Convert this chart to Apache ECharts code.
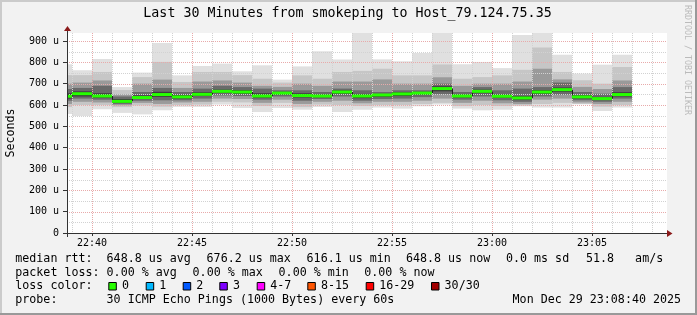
<!DOCTYPE html>
<html><head><meta charset="utf-8">
<script src="https://cdn.jsdelivr.net/npm/echarts@6/dist/echarts.min.js"></script>
<style>html,body{margin:0;padding:0;background:#f2f2f2}#c{width:697px;height:315px}</style>
</head><body><div id="c"></div>
<script>
const FONT = 'DejaVu Sans Mono';

// ---- data (one entry per 1-minute ping round) ----
const startTimes = ['22:38','22:39','22:40','22:41','22:42','22:43','22:44','22:45','22:46','22:47',
  '22:48','22:49','22:50','22:51','22:52','22:53','22:54','22:55','22:56','22:57',
  '22:58','22:59','23:00','23:01','23:02','23:03','23:04','23:05','23:06'];
const pingMax = [791,763,816,684,752,891,739,783,794,758,786,719,781,852,813,950,814,805,844,950,791,802,773,928,950,836,747,789,836];
const pingHi2 = [740,740,755,670,731,802,708,755,755,740,723,705,739,723,755,760,770,739,739,790,723,731,739,765,870,755,716,700,778];
const pingHi3 = [700,705,715,650,700,719,680,710,715,705,690,685,700,690,710,710,720,700,700,730,690,700,700,710,770,720,685,675,715];
const pingHi4 = [675,680,690,640,661,680,661,677,690,684,677,669,669,661,677,669,661,669,669,700,661,684,669,677,684,705,661,653,684];
const pingHi5 = [655,664,655,628,645,662,648,660,672,670,655,662,655,650,668,652,652,660,662,688,650,672,650,642,670,682,646,638,660];
const medianRtt = [641,653,642,617,635,649,638,650,664,661,642,656,644,642,661,642,647,652,656,677,642,664,641,633,661,672,638,630,649];
const pingLo5 = [630,640,634,610,628,638,630,642,656,652,634,648,635,636,652,632,638,642,648,664,635,655,633,625,652,662,630,623,640];
const pingLo4 = [620,630,625,605,620,622,622,630,645,642,625,640,620,628,640,620,628,630,637,650,625,640,622,615,640,648,622,615,630];
const pingLo3 = [605,615,612,598,610,605,612,615,630,628,610,625,605,615,620,608,615,615,620,630,610,620,608,605,625,630,612,605,615];
const pingLo2 = [590,600,600,590,598,592,600,602,615,612,595,610,590,602,600,595,600,600,605,610,595,600,595,598,605,610,605,592,600];
const pingMin = [558,548,580,563,556,575,591,591,602,586,567,586,578,591,567,578,588,583,594,602,583,575,578,594,588,588,603,572,588];

const xTickLabels = ['22:40','22:45','22:50','22:55','23:00','23:05'];
const yTickValues = [0,100,200,300,400,500,600,700,800,900];
const yTickLabels = ['0','100 u','200 u','300 u','400 u','500 u','600 u','700 u','800 u','900 u'];
const minuteGrid = ['22:39','22:40','22:41','22:42','22:43','22:44','22:45','22:46','22:47','22:48','22:49','22:50',
  '22:51','22:52','22:53','22:54','22:55','22:56','22:57','22:58','22:59','23:00','23:01','23:02','23:03','23:04',
  '23:05','23:06','23:07','23:08'];
const valueGrid = [50,100,150,200,250,300,350,400,450,500,550,600,650,700,750,800,850,900];

const legendLine1 = [[15.3,'median rtt:'],[106.6,'648.8 us avg'],[206.6,'676.2 us max'],[306.6,'616.1 us min'],[406,'648.8 us now'],[506,'0.0 ms sd'],[586,'51.8   am/s']];
const legendLine2 = [[15.3,'packet loss:'],[106.6,'0.00 % avg'],[192.6,'0.00 % max'],[278.6,'0.00 % min'],[364.3,'0.00 % now']];
const lossLabels = ['0','1','2','3','4-7','8-15','16-29','30/30'];
const lossColors = ['#26ff00','#00b8ff','#0059ff','#7e00ff','#ff00ff','#ff5500','#ff0000','#a10000'];
const lossBoxX = [108.3,145.7,182.7,219.3,256.7,307.3,365.7,431];
const legendLine4 = [[15.3,'probe:'],[106.6,'30 ICMP Echo Pings (1000 Bytes) every 60s'],[512.6,'Mon Dec 29 23:08:40 2025']];

// ---- helpers ----
const BASE = 22*60+35;
function toMin(s){ const p = s.split(':').map(Number); return p[0]*60 + p[1] - BASE; }
const X_MIN = 3.75, X_MAX = 33.75, Y_MAX = 937.5;
const xTickValues = xTickLabels.map(toMin);

const smokeData = startTimes.map((t,i)=>[toMin(t), pingMin[i], pingLo2[i], pingLo3[i], pingLo4[i], pingLo5[i],
  pingHi5[i], pingHi4[i], pingHi3[i], pingHi2[i], pingMax[i]]);
const medianData = startTimes.map((t,i)=>[toMin(t), medianRtt[i]]);
const BANDS = [[1,10,'#e0e0e0'],[2,9,'#c6c6c6'],[3,8,'#9a9a9a'],[4,7,'#6a6a6a'],[5,6,'#3c3c3c']];

function csRect(cs){ return {x:cs.x, y:cs.y, width:cs.width, height:cs.height}; }

function smokeItem(params, api){
  const cs = csRect(params.coordSys);
  const t0 = api.value(0);
  const children = [];
  BANDS.forEach(function(b){
    const a = api.coord([t0, api.value(b[1])]);
    const c = api.coord([t0+1, api.value(b[0])]);
    const r = echarts.graphic.clipRectByRect({x:a[0], y:a[1], width:c[0]-a[0], height:c[1]-a[1]}, cs);
    if (r) children.push({type:'rect', shape:r, style:{fill:b[2]}});
  });
  return {type:'group', children:children};
}
function medianItem(params, api){
  const cs = csRect(params.coordSys);
  const t0 = api.value(0), m = api.value(1);
  const a = api.coord([t0, m]), c = api.coord([t0+1, m]);
  const children = [];
  const i = params.dataIndex;
  if (i > 0) {
    const p = api.coord([t0, medianRtt[i-1]]);
    children.push({type:'line', shape:{x1:Math.round(a[0])+0.5, y1:p[1], x2:Math.round(a[0])+0.5, y2:a[1]},
      style:{stroke:'#202020', lineWidth:1}});
  }
  const r = echarts.graphic.clipRectByRect({x:a[0], y:a[1]-1.5, width:c[0]-a[0], height:3}, cs);
  if (r) children.push({type:'rect', shape:r, style:{fill:'#26ff00'}});
  return {type:'group', children:children};
}
function vGridItem(params, api){
  const m = api.value(0), major = api.value(1);
  const a = api.coord([m, 0]), b = api.coord([m, Y_MAX]);
  const x = Math.round(a[0]) + 0.5;
  return {type:'line', shape:{x1:x, y1:b[1], x2:x, y2:a[1]},
    style:{stroke: major ? '#e8aaaa' : '#d2d2d2', lineWidth:1, lineDash:[1,1]}};
}
function hGridItem(params, api){
  const v = api.value(1), major = api.value(2);
  const a = api.coord([X_MIN, v]), b = api.coord([X_MAX, v]);
  const y = Math.round(a[1]) + 0.5;
  return {type:'line', shape:{x1:a[0], y1:y, x2:b[0], y2:y},
    style:{stroke: major ? '#e8aaaa' : '#d2d2d2', lineWidth:1, lineDash:[1,1]}};
}

const textStyle = (x, y, text, size, extra) => Object.assign({type:'text', x:x, y:y, silent:true,
  style:{text:text, fill:'#000', fontFamily:FONT, fontSize:size, align:'left', verticalAlign:'middle',
  textAlign:'left', textVerticalAlign:'middle'}}, extra || {});

const graphics = [];
// frame
graphics.push({type:'rect', shape:{x:0,y:0,width:697,height:2}, style:{fill:'#cbcbcb'}, silent:true});
graphics.push({type:'rect', shape:{x:0,y:0,width:2,height:315}, style:{fill:'#cbcbcb'}, silent:true});
graphics.push({type:'rect', shape:{x:695,y:0,width:2,height:315}, style:{fill:'#999999'}, silent:true});
graphics.push({type:'rect', shape:{x:0,y:313,width:697,height:2}, style:{fill:'#999999'}, silent:true});
// title
graphics.push({type:'text', x:347.5, y:13.7, silent:true, style:{text:'Last 30 Minutes from smokeping to Host_79.124.75.35',
  fill:'#000', fontFamily:FONT, fontSize:13.3, align:'center', verticalAlign:'middle', textAlign:'center', textVerticalAlign:'middle'}});
// side label
graphics.push({type:'text', x:687.2, y:60, rotation:-Math.PI/2, silent:true, style:{text:'RRDTOOL / TOBI OETIKER',
  fill:'#bbbbbb', fontFamily:FONT, fontSize:8.3, align:'center', verticalAlign:'middle', textAlign:'center', textVerticalAlign:'middle'}});
// y axis name
graphics.push({type:'text', x:10.9, y:133, rotation:Math.PI/2, silent:true, style:{text:'Seconds',
  fill:'#000', fontFamily:FONT, fontSize:11.66, align:'center', verticalAlign:'middle', textAlign:'center', textVerticalAlign:'middle'}});
// axis extensions and arrows
graphics.push({type:'line', shape:{x1:63, y1:233.5, x2:669, y2:233.5}, style:{stroke:'#333', lineWidth:1}, silent:true, z:10});
graphics.push({type:'line', shape:{x1:67.5, y1:30, x2:67.5, y2:237}, style:{stroke:'#333', lineWidth:1}, silent:true, z:10});
graphics.push({type:'polygon', shape:{points:[[667,230],[672.5,233.5],[667,237]]}, style:{fill:'#8b1a1a'}, silent:true, z:10});
graphics.push({type:'polygon', shape:{points:[[64,31],[67.5,26],[71,31]]}, style:{fill:'#8b1a1a'}, silent:true, z:10});
// legend
const lineY = [258.7, 272.7, 286.3, 300.3];
legendLine1.forEach(s => graphics.push(textStyle(s[0], lineY[0], s[1], 11.66)));
legendLine2.forEach(s => graphics.push(textStyle(s[0], lineY[1], s[1], 11.66)));
graphics.push(textStyle(15.3, lineY[2], 'loss color:', 11.66));
lossLabels.forEach((l,i) => {
  graphics.push({type:'rect', shape:{x:lossBoxX[i]+0.5, y:282.5, width:7.5, height:7.5},
    style:{fill:lossColors[i], stroke:'#000', lineWidth:1}, silent:true});
  graphics.push(textStyle(lossBoxX[i]+13.6, lineY[2], l, 11.66));
});
legendLine4.forEach(s => graphics.push(textStyle(s[0], lineY[3], s[1], 11.66)));

const chart = echarts.init(document.getElementById('c'), null, {renderer:'canvas'});
chart.setOption({
  animation:false,
  backgroundColor:'#f2f2f2',
  grid:{left:67, top:33, width:600, height:200, show:true, backgroundColor:'#ffffff', borderWidth:0},
  xAxis:{type:'value', min:X_MIN, max:X_MAX, z:5,
    splitLine:{show:false},
    axisLine:{show:false},
    axisTick:{show:true, customValues:xTickValues, length:3, lineStyle:{color:'#333'}},
    axisLabel:{customValues:xTickValues, margin:5, fontFamily:FONT, fontSize:10, color:'#000',
      formatter:function(v){ const k = xTickValues.indexOf(v); return k >= 0 ? xTickLabels[k] : ''; }}},
  yAxis:{type:'value', min:0, max:Y_MAX, interval:100, z:5,
    splitLine:{show:false},
    axisLine:{show:false},
    axisTick:{show:true, customValues:yTickValues, length:4, lineStyle:{color:'#333'}},
    axisLabel:{customValues:yTickValues, margin:8, fontFamily:FONT, fontSize:10, color:'#000',
      formatter:function(v){ const k = yTickValues.indexOf(v); return k >= 0 ? yTickLabels[k] : ''; }}},
  graphic:{elements:graphics},
  series:[
    {type:'custom', name:'smoke', z:1, renderItem:smokeItem, data:smokeData, encode:{x:0, y:1}, silent:true},
    {type:'custom', name:'vgrid', z:2, renderItem:vGridItem, silent:true,
      data:minuteGrid.map(t => [toMin(t), toMin(t) % 5 === 0 ? 1 : 0]), encode:{x:0}},
    {type:'custom', name:'hgrid', z:2, renderItem:hGridItem, silent:true,
      data:valueGrid.map(v => [X_MIN, v, v % 100 === 0 ? 1 : 0]), encode:{x:0, y:1}},
    {type:'custom', name:'median', z:3, renderItem:medianItem, data:medianData, encode:{x:0, y:1}, silent:true}
  ]
});
</script></body></html>
